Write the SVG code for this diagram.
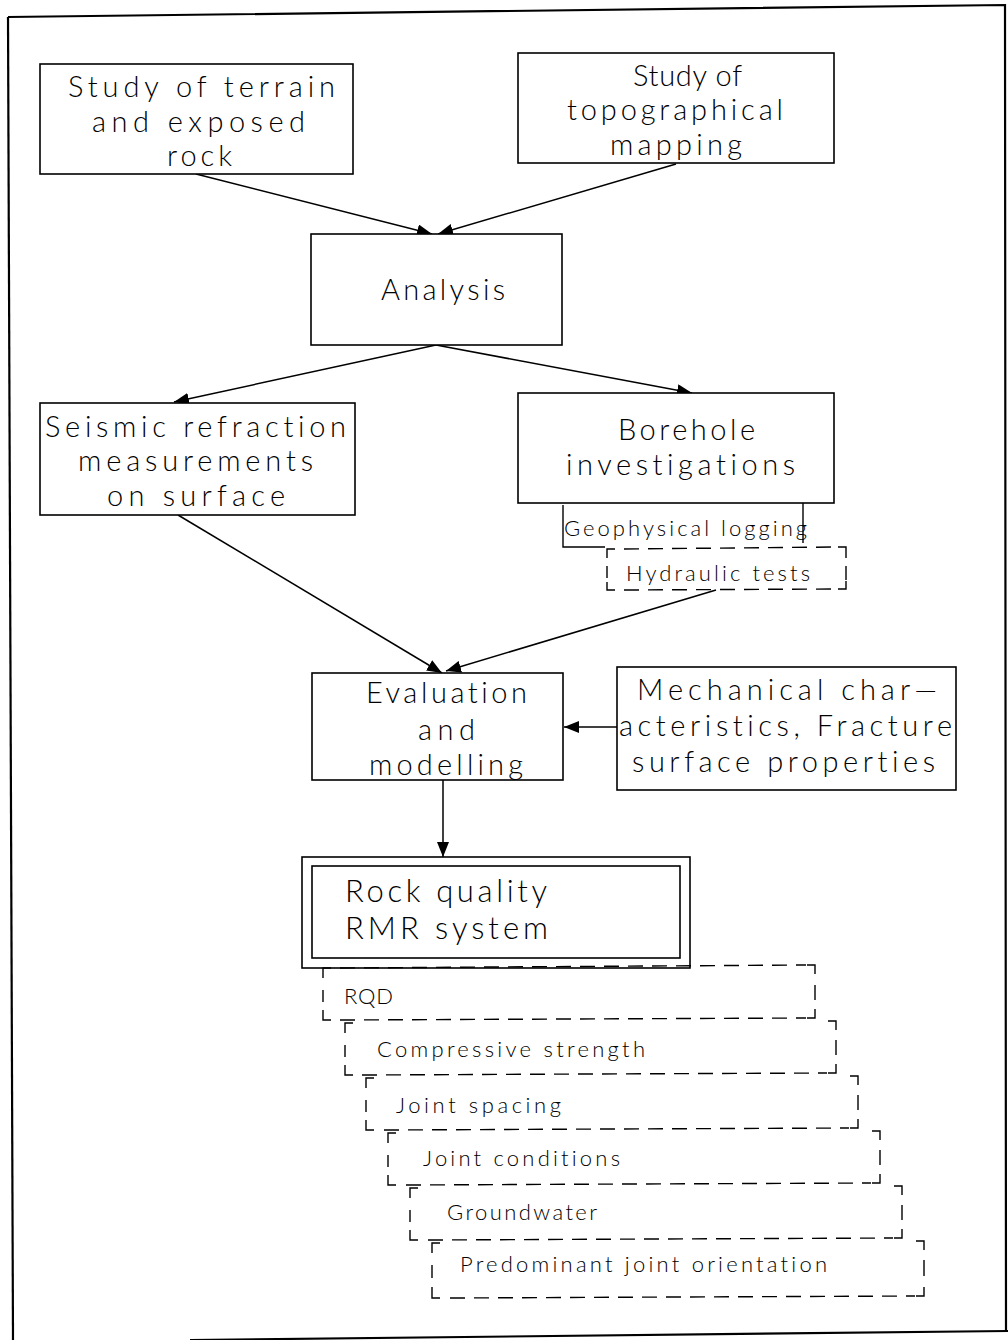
<svg xmlns="http://www.w3.org/2000/svg" width="1008" height="1340" viewBox="0 0 1008 1340">
  <style>
    .box { fill: #fff; stroke: #000; stroke-width: 1.6; }
    .frame { fill: none; stroke: #000; stroke-width: 2.2; }
    .edge { fill: none; stroke: #000; stroke-width: 1.5; }
    .dash { fill: none; stroke: #000; stroke-width: 1.4; stroke-dasharray: 15 9; }
    .tick { fill: none; stroke: #000; stroke-width: 1.4; }
    text { font-family: Lato, "Liberation Sans", "DejaVu Sans", sans-serif; font-weight: 300; fill: #000; font-variant-ligatures: none; }
    .big { font-size: 29px; }
    .mid { font-size: 31px; }
    .small { font-size: 22px; }
  </style>
  <defs>
    <marker id="arrow" markerUnits="userSpaceOnUse" markerWidth="16" markerHeight="12" refX="15" refY="6" orient="auto">
      <path d="M0,0 L15,6 L0,12 Z" fill="#000"/>
    </marker>
  </defs>

  <rect width="1008" height="1340" fill="#fff"/>

  <!-- page frame -->
  <g id="frame">
    <path class="frame" d="M8,17 L1005,5 L1006,1332"/>
    <path class="frame" d="M8,17 L13,1340"/>
    <path class="frame" d="M190,1340 L1008,1331"/>
  </g>

  <!-- connectors -->
  <g id="connectors">
    <line class="edge" x1="196" y1="174" x2="432" y2="234" marker-end="url(#arrow)"/>
    <line class="edge" x1="676" y1="164" x2="438" y2="234" marker-end="url(#arrow)"/>
    <line class="edge" x1="436" y1="345" x2="174" y2="402" marker-end="url(#arrow)"/>
    <line class="edge" x1="436" y1="345" x2="692" y2="393" marker-end="url(#arrow)"/>
    <line class="edge" x1="178" y1="515" x2="442" y2="673" marker-end="url(#arrow)"/>
    <line class="edge" x1="716" y1="590" x2="446" y2="671" marker-end="url(#arrow)"/>
    <line class="edge" x1="617" y1="727" x2="564" y2="727" marker-end="url(#arrow)"/>
    <line class="edge" x1="443" y1="780" x2="443" y2="857" marker-end="url(#arrow)"/>
  </g>

  <g id="terrain">
    <rect class="box" x="40" y="64" width="313" height="110"/>
    <text class="big" x="68" y="97" textLength="267" lengthAdjust="spacing">Study of terrain</text>
    <text class="big" x="92" y="132" textLength="213" lengthAdjust="spacing">and exposed</text>
    <text class="big" x="167" y="166" textLength="65" lengthAdjust="spacing">rock</text>
  </g>

  <g id="topography">
    <rect class="box" x="518" y="53" width="316" height="110"/>
    <text class="big" x="633" y="86" textLength="109" lengthAdjust="spacing">Study of</text>
    <text class="big" x="567" y="120" textLength="216" lengthAdjust="spacing">topographical</text>
    <text class="big" x="610" y="155" textLength="132" lengthAdjust="spacing">mapping</text>
  </g>

  <g id="analysis">
    <rect class="box" x="311" y="234" width="251" height="111"/>
    <text class="big" x="381" y="300" textLength="124" lengthAdjust="spacing">Analysis</text>
  </g>

  <g id="seismic">
    <rect class="box" x="40" y="403" width="315" height="112"/>
    <text class="big" x="45" y="437" textLength="301" lengthAdjust="spacing">Seismic refraction</text>
    <text class="big" x="78" y="471" textLength="235" lengthAdjust="spacing">measurements</text>
    <text class="big" x="107" y="506" textLength="178" lengthAdjust="spacing">on surface</text>
  </g>

  <g id="borehole">
    <rect class="box" x="518" y="393" width="316" height="110"/>
    <text class="big" x="618" y="440" textLength="137" lengthAdjust="spacing">Borehole</text>
    <text class="big" x="566" y="475" textLength="229" lengthAdjust="spacing">investigations</text>
  </g>

  <g id="geophysical-logging">
    <path class="tick" d="M563,505 L563,547 L605,547"/>
    <path class="tick" d="M803,503 L803,543"/>
    <text class="small" x="564" y="536" textLength="243" lengthAdjust="spacing">Geophysical logging</text>
  </g>

  <g id="hydraulic-tests">
    <path class="tick" d="M607,558 L607,549 L615,549"/>
    <line class="dash" x1="624" y1="549" x2="836" y2="547"/>
    <path class="tick" d="M838,547 L846,547 L846,558"/>
    <line class="tick" x1="846" y1="566" x2="846" y2="580"/>
    <line class="tick" x1="607" y1="566" x2="607" y2="578"/>
    <path class="tick" d="M607,582 L607,590 L615,590"/>
    <line class="dash" x1="624" y1="590" x2="836" y2="589"/>
    <path class="tick" d="M838,589 L846,589 L846,581"/>
    <text class="small" x="626" y="581" textLength="184" lengthAdjust="spacing">Hydraulic tests</text>
  </g>

  <g id="evaluation">
    <rect class="box" x="312" y="673" width="251" height="107"/>
    <text class="big" x="366" y="703" textLength="161" lengthAdjust="spacing">Evaluation</text>
    <text class="big" x="418" y="740" textLength="57" lengthAdjust="spacing">and</text>
    <text class="big" x="369" y="775" textLength="154" lengthAdjust="spacing">modelling</text>
  </g>

  <g id="mechanical">
    <rect class="box" x="617" y="667" width="339" height="123"/>
    <text class="big" x="637" y="700" textLength="300" lengthAdjust="spacing">Mechanical char—</text>
    <text class="big" x="619" y="736" textLength="333" lengthAdjust="spacing">acteristics, Fracture</text>
    <text class="big" x="632" y="772" textLength="303" lengthAdjust="spacing">surface properties</text>
  </g>

  <g id="rock-quality">
    <rect class="box" x="302" y="857" width="388" height="111"/>
    <rect class="box" x="312" y="866" width="368" height="92"/>
    <text class="mid" x="345" y="902" textLength="202" lengthAdjust="spacing">Rock quality</text>
    <text class="mid" x="345" y="939" textLength="203" lengthAdjust="spacing">RMR system</text>
  </g>

  <!-- RMR parameters: dashed boxes stepping down and to the right -->
  <g id="rqd">
    <path class="tick" d="M323,978 L323,968 L331,968"/>
    <line class="dash" x1="340" y1="968" x2="806" y2="965"/>
    <path class="tick" d="M807,965 L815,965 L815,974"/>
    <line class="tick" x1="815" y1="985" x2="815" y2="1000"/>
    <line class="tick" x1="323" y1="990" x2="323" y2="1002"/>
    <path class="tick" d="M323,1010 L323,1020 L331,1020"/>
    <line class="dash" x1="340" y1="1020" x2="806" y2="1018"/>
    <path class="tick" d="M807,1018 L815,1018 L815,1009"/>
    <text class="small" x="344" y="1004" textLength="49" lengthAdjust="spacing">RQD</text>
  </g>

  <g id="compressive-strength">
    <path class="tick" d="M345,1033 L345,1023 L353,1023"/>
    <path class="tick" d="M828,1021 L836,1021 L836,1030"/>
    <line class="tick" x1="836" y1="1040" x2="836" y2="1055"/>
    <line class="tick" x1="345" y1="1045" x2="345" y2="1057"/>
    <path class="tick" d="M345,1065 L345,1075 L353,1075"/>
    <line class="dash" x1="362" y1="1075" x2="827" y2="1073"/>
    <path class="tick" d="M828,1073 L836,1073 L836,1064"/>
    <text class="small" x="377" y="1057" textLength="268" lengthAdjust="spacing">Compressive strength</text>
  </g>

  <g id="joint-spacing">
    <path class="tick" d="M366,1088 L366,1078 L374,1078"/>
    <path class="tick" d="M850,1076 L858,1076 L858,1085"/>
    <line class="tick" x1="858" y1="1095" x2="858" y2="1110"/>
    <line class="tick" x1="366" y1="1100" x2="366" y2="1112"/>
    <path class="tick" d="M366,1120 L366,1130 L374,1130"/>
    <line class="dash" x1="384" y1="1130" x2="849" y2="1128"/>
    <path class="tick" d="M850,1128 L858,1128 L858,1119"/>
    <text class="small" x="396" y="1113" textLength="165" lengthAdjust="spacing">Joint spacing</text>
  </g>

  <g id="joint-conditions">
    <path class="tick" d="M388,1143 L388,1133 L396,1133"/>
    <path class="tick" d="M872,1131 L880,1131 L880,1140"/>
    <line class="tick" x1="880" y1="1150" x2="880" y2="1165"/>
    <line class="tick" x1="388" y1="1155" x2="388" y2="1167"/>
    <path class="tick" d="M388,1175 L388,1185 L396,1185"/>
    <line class="dash" x1="406" y1="1185" x2="871" y2="1183"/>
    <path class="tick" d="M872,1183 L880,1183 L880,1174"/>
    <text class="small" x="423" y="1166" textLength="197" lengthAdjust="spacing">Joint conditions</text>
  </g>

  <g id="groundwater">
    <path class="tick" d="M410,1198 L410,1188 L418,1188"/>
    <path class="tick" d="M894,1186 L902,1186 L902,1195"/>
    <line class="tick" x1="902" y1="1205" x2="902" y2="1220"/>
    <line class="tick" x1="410" y1="1210" x2="410" y2="1222"/>
    <path class="tick" d="M410,1230 L410,1240 L418,1240"/>
    <line class="dash" x1="428" y1="1240" x2="893" y2="1238"/>
    <path class="tick" d="M894,1238 L902,1238 L902,1229"/>
    <text class="small" x="447" y="1220" textLength="150" lengthAdjust="spacing">Groundwater</text>
  </g>

  <g id="joint-orientation">
    <path class="tick" d="M432,1253 L432,1243 L440,1243"/>
    <path class="tick" d="M916,1241 L924,1241 L924,1250"/>
    <line class="tick" x1="924" y1="1260" x2="924" y2="1276"/>
    <line class="tick" x1="432" y1="1265" x2="432" y2="1278"/>
    <path class="tick" d="M432,1287 L432,1298 L440,1298"/>
    <line class="dash" x1="450" y1="1298" x2="915" y2="1296"/>
    <path class="tick" d="M916,1296 L924,1296 L924,1287"/>
    <text class="small" x="460" y="1272" textLength="367" lengthAdjust="spacing">Predominant joint orientation</text>
  </g>
</svg>
